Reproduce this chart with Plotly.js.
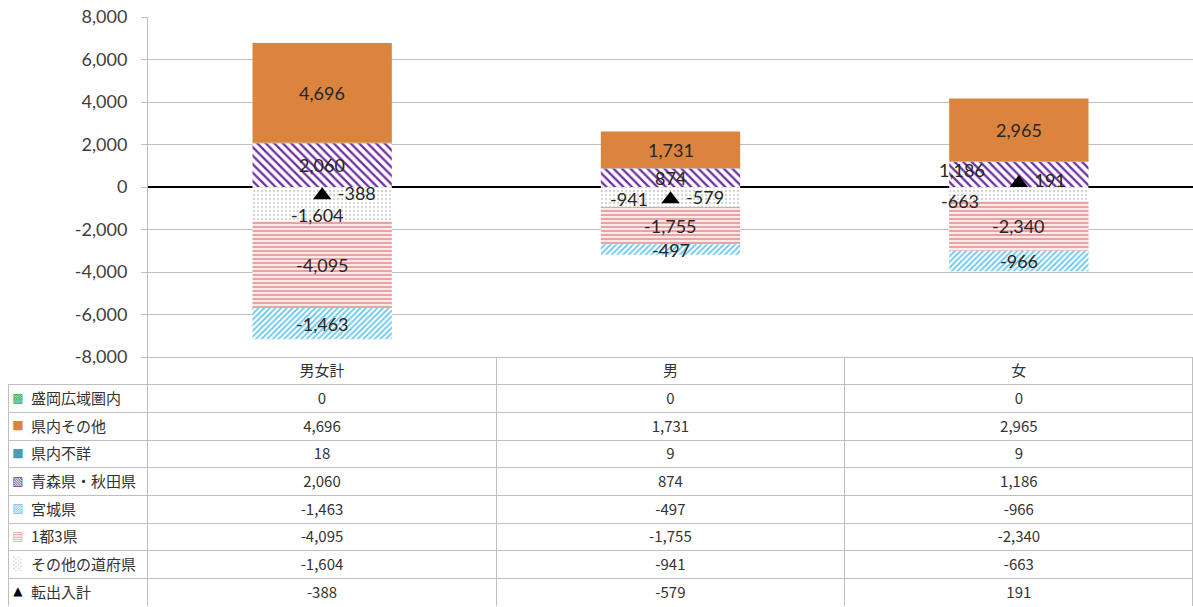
<!DOCTYPE html>
<html>
<head>
<meta charset="utf-8">
<script src="https://cdn.plot.ly/plotly-3.0.1.min.js"></script>
<style>html,body{margin:0;padding:0;background:#fff;}#chart{width:1193px;height:607px;}</style>
</head>
<body>
<div id="chart"></div>
<script>
// ---- data ----
const categories = ['男女計', '男', '女'];
const moriokaArea = [0, 0, 0];          // 盛岡広域圏内
const kennaiOther = [4696, 1731, 2965]; // 県内その他
const kennaiUnknown = [18, 9, 9];       // 県内不詳
const aomoriAkita = [2060, 874, 1186];  // 青森県・秋田県
const miyagi = [-1463, -497, -966];     // 宮城県
const tokyoArea = [-4095, -1755, -2340];// 1都3県
const otherPref = [-1604, -941, -663];  // その他の道府県
const netTotal = [-388, -579, 191];     // 転出入計
const rowLabels = ['盛岡広域圏内', '県内その他', '県内不詳', '青森県・秋田県', '宮城県', '1都3県', 'その他の道府県', '転出入計'];
const yTicks = [-8000, -6000, -4000, -2000, 0, 2000, 4000, 6000, 8000];

// ---- styles ----
const C = {
  morioka: '#2EAD5E', kennai: '#DA843E', unknown: '#4A9BB5', aomori: '#7030A0',
  miyagi: '#63C6EE', tokyo: '#E9A3A3', other: '#C8C8C8'
};
const labelFont = {family: 'Lato, "Noto Sans", sans-serif', size: 18, color: '#262626'};
const cjk = '"Noto Sans CJK JP", "Noto Sans", sans-serif';
const fmt = v => v.toLocaleString('en-US');

const W = 1193, H = 607;
const plotLeft = 148, plotTop = 17, plotBottom = 357, tableLeft = 8, rowH = 27.7;
const bodyTop = plotBottom + rowH;

function bar(name, y, marker) {
  return {type: 'bar', name, x: categories, y, marker, hoverinfo: 'name+y', showlegend: false};
}

// stacking order (positive from zero upward, negative from zero downward)
const traces = [
  bar('青森県・秋田県', aomoriAkita, {color: 'white', line: {width: 0}, pattern: {shape: '\\', fgcolor: C.aomori, bgcolor: 'white', size: 6, solidity: 0.38}}),
  bar('県内不詳', kennaiUnknown, {color: C.unknown, line: {width: 0}}),
  bar('県内その他', kennaiOther, {color: C.kennai, line: {width: 0}}),
  bar('盛岡広域圏内', moriokaArea, {color: C.morioka, line: {width: 0}}),
  bar('その他の道府県', otherPref, {color: 'white', line: {width: 0}, pattern: {shape: '.', fgcolor: C.other, bgcolor: 'white', size: 4, solidity: 0.2}}),
  bar('1都3県', tokyoArea, {color: 'white', line: {width: 0}, pattern: {shape: '-', fgcolor: C.tokyo, bgcolor: '#FBEAEA', size: 4, solidity: 0.5}}),
  bar('宮城県', miyagi, {color: 'white', line: {width: 0}, pattern: {shape: '/', fgcolor: C.miyagi, bgcolor: 'white', size: 4, solidity: 0.45}}),
  {
    type: 'scatter', mode: 'markers+text', name: '転出入計', x: categories, y: netTotal,
    marker: {symbol: 'triangle-up', size: 16, color: '#000'},
    text: netTotal.map(v => '\u00a0' + fmt(v)), textposition: 'middle right', textfont: labelFont,
    showlegend: false, cliponaxis: false
  }
];

// data labels at the middle of each stacked segment
const labelShift = {
  otherPref: [[-5, -11], [-42, -2], [-59, -7]],
  aomoriAkita: [[0, 0], [0, 0], [-57, 4]]
};
const annotations = [];
categories.forEach((cat, i) => {
  const segs = [
    ['aomoriAkita', aomoriAkita[i], 0],
    ['kennaiOther', kennaiOther[i], aomoriAkita[i] + kennaiUnknown[i]],
    ['otherPref', otherPref[i], 0],
    ['tokyoArea', tokyoArea[i], otherPref[i]],
    ['miyagi', miyagi[i], otherPref[i] + tokyoArea[i]]
  ];
  segs.forEach(([key, v, base]) => {
    const sh = (labelShift[key] || [])[i] || [0, 0];
    annotations.push({
      x: cat, y: base + v / 2, xref: 'x', yref: 'y', text: fmt(v), showarrow: false,
      font: labelFont, xshift: sh[0], yshift: sh[1]
    });
  });
});

// data table
const rowsByCategory = categories.map((c, i) => [
  moriokaArea[i], kennaiOther[i], kennaiUnknown[i], aomoriAkita[i],
  miyagi[i], tokyoArea[i], otherPref[i], netTotal[i]
].map(fmt));
const gridGray = '#BFBFBF';
traces.push({
  type: 'table',
  domain: {x: [tableLeft / W, 1], y: [0, 1 - plotBottom / H]},
  columnwidth: [plotLeft - tableLeft, 349, 349, 349],
  header: {
    values: [[''], ...categories.map(c => [c])],
    align: 'center', height: rowH,
    font: {family: cjk, size: 15, color: '#333'},
    fill: {color: ['rgba(255,255,255,0)', 'white', 'white', 'white']},
    line: {color: ['rgba(255,255,255,0)', gridGray, gridGray, gridGray], width: 1}
  },
  cells: {
    values: [rowLabels.map(l => '\u3000' + l), ...rowsByCategory],
    align: ['left', 'center', 'center', 'center'], height: rowH,
    font: {family: cjk, size: 15, color: '#333'},
    fill: {color: 'rgba(255,255,255,0)'},
    line: {color: gridGray, width: 1}
  }
});

// legend keys in the table's first column
const keyChars = ['▩', '■', '■', '▧', '▨', '▤', '░', '▲'];
const keyColors = [C.morioka, C.kennai, C.unknown, C.aomori, C.miyagi, C.tokyo, '#D0D0D0', '#000'];
traces.push({
  type: 'scatter', mode: 'text', xaxis: 'x2', yaxis: 'y2',
  x: rowLabels.map(() => 0.07), y: rowLabels.map((l, k) => k + 0.5),
  text: keyChars, textposition: 'middle center',
  textfont: {family: '"DejaVu Sans", sans-serif', size: 12, color: keyColors},
  hoverinfo: 'skip', showlegend: false, cliponaxis: false
});

const layout = {
  width: W, height: H,
  margin: {l: 0, r: 0, t: 0, b: 0},
  paper_bgcolor: 'white', plot_bgcolor: 'rgba(0,0,0,0)',
  barmode: 'relative', bargap: 0.6,
  showlegend: false,
  font: {family: labelFont.family, color: '#404040'},
  xaxis: {
    domain: [plotLeft / W, 1], type: 'category', showticklabels: false,
    showgrid: false, zeroline: false, showline: false, ticks: '', fixedrange: true
  },
  yaxis: {
    domain: [1 - plotBottom / H, 1 - plotTop / H], range: [-8000, 8000],
    tickvals: yTicks, ticktext: yTicks.map(fmt),
    tickfont: {family: labelFont.family, size: 18, color: '#404040'},
    showgrid: true, gridcolor: gridGray, gridwidth: 1,
    zeroline: true, zerolinecolor: '#000', zerolinewidth: 2,
    showline: true, linecolor: gridGray, linewidth: 1,
    ticks: 'outside', ticklen: 6, tickcolor: gridGray, ticklabelstandoff: 10,
    fixedrange: true
  },
  xaxis2: {
    domain: [tableLeft / W, plotLeft / W], range: [0, 1], visible: false, fixedrange: true
  },
  yaxis2: {
    domain: [1 - (bodyTop + rowH * rowLabels.length) / H, 1 - bodyTop / H],
    range: [rowLabels.length, 0], visible: false, fixedrange: true
  },
  annotations
};

Plotly.newPlot('chart', traces, layout, {displayModeBar: false, staticPlot: true});
</script>
</body>
</html>
